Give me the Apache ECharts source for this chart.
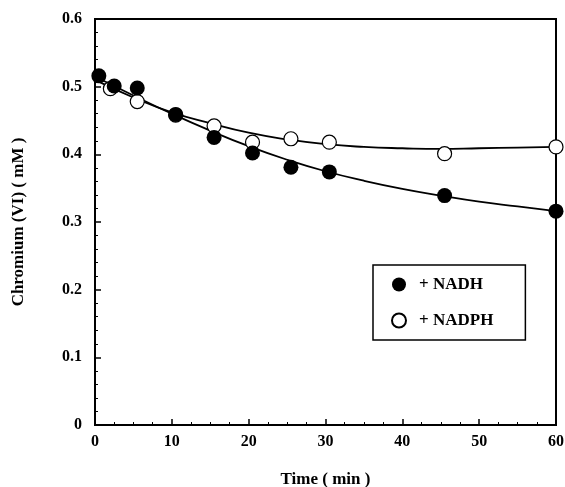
<!DOCTYPE html>
<html>
<head>
<meta charset="utf-8">
<script src="https://cdn.jsdelivr.net/npm/echarts@6/dist/echarts.min.js"></script>
<style>
  html, body { margin: 0; padding: 0; background: #fff; }
  #chart { width: 565px; height: 487px; }
</style>
</head>
<body>
<div id="chart"></div>
<script>
// measured points
const nadhTime = [0.5, 2.5, 5.5, 10.5, 15.5, 20.5, 25.5, 30.5, 45.5, 60]
const nadhConc = [0.516, 0.501, 0.498, 0.459, 0.425, 0.402, 0.381, 0.374, 0.339, 0.316]
const nadphTime = [2, 5.5, 10.5, 15.5, 20.5, 25.5, 30.5, 45.5, 60]
const nadphConc = [0.497, 0.478, 0.458, 0.442, 0.418, 0.423, 0.418, 0.401, 0.411]

// fitted curves
const fitTime = [0, 5, 10, 15, 20, 25, 30, 35, 40, 45, 50, 55, 60]
const nadhFit = [0.515, 0.487, 0.460, 0.435, 0.412, 0.392, 0.375, 0.361, 0.349, 0.339, 0.330, 0.323, 0.316]
const nadphFit = [0.510, 0.484, 0.462, 0.446, 0.432, 0.422, 0.415, 0.411, 0.409, 0.408, 0.409, 0.410, 0.411]

const font = 'Liberation Serif'
const pairs = (xs, ys) => xs.map((x, i) => [x, ys[i]])

const chart = echarts.init(document.getElementById('chart'), null, { renderer: 'canvas' })

chart.setOption({
  backgroundColor: '#fff',
  animation: false,
  grid: {
    left: 95, right: 9, top: 19, bottom: 62,
    outerBoundsMode: 'none',
    show: true, borderColor: '#000', borderWidth: 2
  },
  legend: {
    orient: 'vertical',
    left: 373, top: 265,
    padding: [11, 32, 11, 18],
    itemGap: 19,
    itemWidth: 14, itemHeight: 14,
    borderColor: '#000', borderWidth: 1.5,
    backgroundColor: '#fff',
    data: ['+ NADH', '+ NADPH'],
    textStyle: { fontFamily: font, fontWeight: 'bold', fontSize: 17, color: '#000', padding: [0, 0, 0, 8] }
  },
  xAxis: {
    type: 'value', min: 0, max: 60, interval: 10,
    name: 'Time ( min )', nameLocation: 'middle', nameGap: 46,
    nameTextStyle: { fontFamily: font, fontWeight: 'bold', fontSize: 17, color: '#000' },
    axisLine: { lineStyle: { color: '#000', width: 2 } },
    axisTick: { inside: true, length: 6, lineStyle: { color: '#000', width: 1.5 } },
    minorTick: { show: true, splitNumber: 4, length: 3, lineStyle: { color: '#000' } },
    splitLine: { show: false },
    axisLabel: { fontFamily: font, fontWeight: 'bold', fontSize: 16, color: '#000', margin: 9 }
  },
  yAxis: {
    type: 'value', min: 0, max: 0.6, interval: 0.1,
    name: 'Chromium (VI) ( mM )', nameLocation: 'middle', nameGap: 68,
    nameTextStyle: { fontFamily: font, fontWeight: 'bold', fontSize: 17, color: '#000' },
    axisLine: { lineStyle: { color: '#000', width: 2 } },
    axisTick: { inside: true, length: 6, lineStyle: { color: '#000', width: 1.5 } },
    minorTick: { show: true, splitNumber: 5, length: 3, lineStyle: { color: '#000' } },
    splitLine: { show: false },
    axisLabel: {
      fontFamily: font, fontWeight: 'bold', fontSize: 16, color: '#000', margin: 13,
      formatter: v => (v === 0 ? '0' : v.toFixed(1))
    }
  },
  series: [
    {
      type: 'line', data: pairs(fitTime, nadhFit), smooth: true,
      symbol: 'none', silent: true,
      lineStyle: { color: '#000', width: 1.8 }
    },
    {
      type: 'line', data: pairs(fitTime, nadphFit), smooth: true,
      symbol: 'none', silent: true,
      lineStyle: { color: '#000', width: 1.8 }
    },
    {
      name: '+ NADPH', type: 'scatter', data: pairs(nadphTime, nadphConc),
      symbol: 'circle', symbolSize: 14, z: 3,
      itemStyle: { color: '#fff', borderColor: '#000', borderWidth: 1.2, opacity: 1 }
    },
    {
      name: '+ NADH', type: 'scatter', data: pairs(nadhTime, nadhConc),
      symbol: 'circle', symbolSize: 15, z: 4,
      itemStyle: { color: '#000', opacity: 1 }
    }
  ]
})
</script>
</body>
</html>
